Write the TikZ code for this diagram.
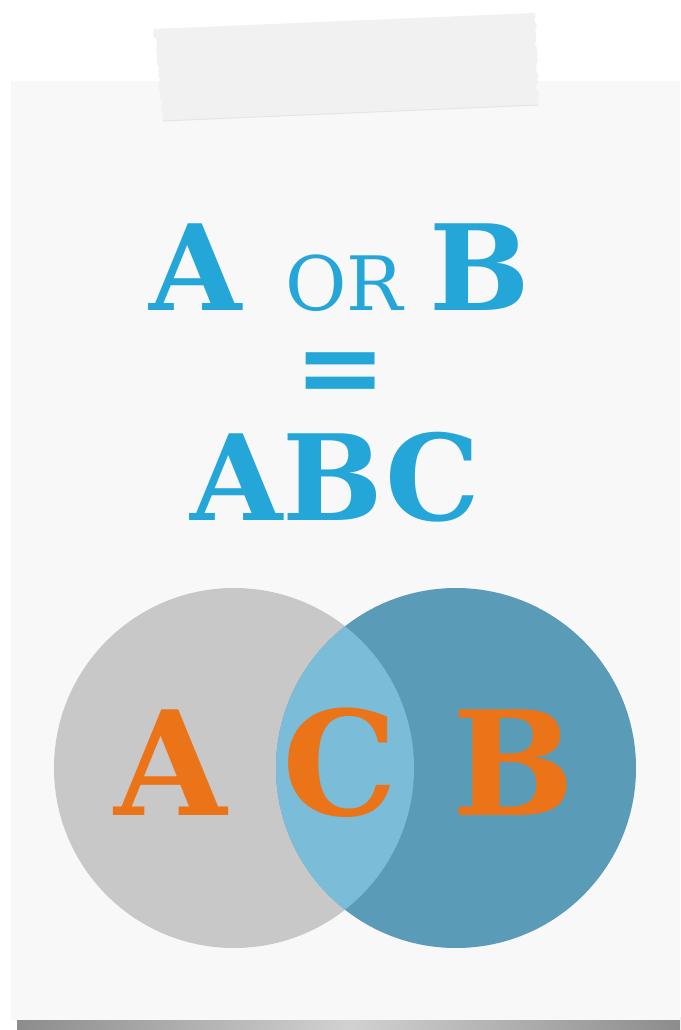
\documentclass[tikz,border=0pt]{standalone}
\usepackage{fontspec}
\setmainfont{DejaVu Serif}
\usepackage{xcolor}
\usetikzlibrary{decorations.pathmorphing}

\definecolor{paper}{HTML}{F8F8F8}
\definecolor{tape}{HTML}{F1F1F1}
\definecolor{titleblue}{HTML}{25A6D8}
\definecolor{venngray}{HTML}{C9C8C9}
\definecolor{vennblue}{HTML}{5A9BB7}
\definecolor{vennmid}{HTML}{7BBCD8}
\definecolor{vennorange}{HTML}{EC7418}

\tikzset{
  bigletter/.style={text=titleblue,font=\bfseries\fontsize{119}{119}\selectfont,anchor=base,inner sep=0pt},
  smallword/.style={text=titleblue,font=\fontsize{75}{75}\selectfont,anchor=base,inner sep=0pt},
  eqsign/.style={text=titleblue,font=\bfseries\fontsize{110}{110}\selectfont,anchor=base,inner sep=0pt},
  vennletter/.style={text=vennorange,font=\bfseries\fontsize{145}{145}\selectfont,anchor=base,inner sep=0pt}
}

\begin{document}
\begin{tikzpicture}[x=1pt,y=-1pt]
\useasboundingbox (0,0) rectangle (680,1030);
\fill[white] (0,0) rectangle (680,1030);
% shadow under the sheet
\shade[left color=black!45,right color=black!45,middle color=black!18] (17,1017) rectangle (680,1030);
\fill[paper] (11,81) rectangle (680,1020);
% tape
\pgfmathsetseed{7}
\fill[tape,decoration={random steps,segment length=3pt,amplitude=1.5pt}]
  (154,29) -- (535,13) decorate{-- (538,105)} -- (163,121) decorate{-- (154,29)} -- cycle;
\draw[black!10,line width=1pt] (163,121) -- (538,105);
% title
\node[bigletter] (a) at (196,310) {A};
\node[smallword] (or) at (344,310) {OR};
\node[bigletter] (b) at (480,310) {B};
\node[eqsign] (eq) at (341,405) {\smash{=}};
\node[bigletter] (abc) at (335,520) {ABC};
% venn
\fill[venngray] (234,768) circle[radius=180];
\fill[vennblue] (456,768) circle[radius=180];
\begin{scope}
\clip (234,768) circle[radius=180];
\fill[vennmid] (456,768) circle[radius=180];
\end{scope}
\node[vennletter] (va) at (171,815) {A};
\node[vennletter] (vc) at (340,815) {C};
\node[vennletter] (vb) at (514,815) {B};
\end{tikzpicture}
\end{document}
